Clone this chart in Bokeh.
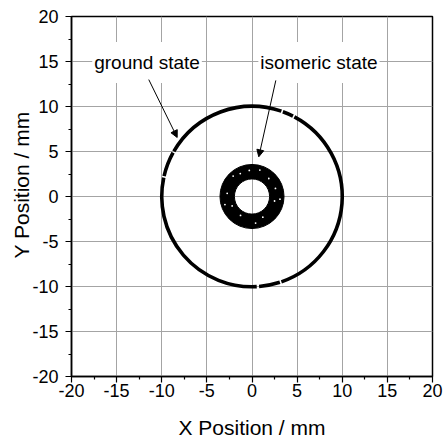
import numpy as np
from bokeh.plotting import figure
from bokeh.models import (Range1d, FixedTicker, Label, Arrow, NormalHead, Title,
                          PrintfTickFormatter)
from bokeh.embed import file_html
from bokeh.resources import INLINE

# ---------------- data ----------------
major_ticks = [-20, -15, -10, -5, 0, 5, 10, 15, 20]
minor_ticks = [-17.5, -12.5, -7.5, -2.5, 2.5, 7.5, 12.5, 17.5]

# ground state: thin ring of radius ~10 mm, with small gaps (arc pieces, degrees)
ground_radius = 10.0
ground_arc_start = [-71.0, 63.0, 71.0, 151.0, 168.0, -85.5]
ground_arc_end = [62.0, 70.0, 150.0, 167.0, 273.0, -72.0]

# isomeric state: thick ring around the centre
iso_center_x = [0.0]
iso_center_y = [0.0]
iso_inner_radius = [1.95]
iso_outer_radius = [3.55]

# small white gaps inside the isomeric ring
speck_x = [-2.09, -1.3, 0.87, 1.86, -2.75, -2.2, -1.27, 1.2, 2.5, 2.6, -0.3, 0.4, -3.0, 3.1]
speck_y = [2.27, 2.55, 2.94, 2.0, 0.35, -1.05, -2.1, -2.3, -0.5, 0.9, 2.9, -2.95, -0.9, -0.3]

annotations = ["ground state", "isomeric state"]

FONT = "Liberation Sans"

p = figure(width=443, height=441, output_backend="svg", toolbar_location=None,
           x_range=Range1d(-20, 20), y_range=Range1d(-20, 20),
           min_border_left=71, min_border_right=11, min_border_top=16,
           min_border_bottom=64)
p.background_fill_color = "white"
p.border_fill_color = "white"
p.outline_line_color = "black"
p.outline_line_width = 1.5

ticker = FixedTicker(ticks=major_ticks, minor_ticks=minor_ticks)

for ax in (p.xaxis[0], p.yaxis[0]):
    ax.ticker = ticker
    ax.formatter = PrintfTickFormatter(format="%d")
    ax.axis_line_color = "black"
    ax.axis_line_width = 1.5
    ax.major_tick_line_color = "black"
    ax.minor_tick_line_color = "black"
    ax.major_tick_line_width = 1.2
    ax.minor_tick_line_width = 1.2
    ax.major_tick_out = 6
    ax.major_tick_in = 0
    ax.minor_tick_out = 3
    ax.minor_tick_in = 0
    ax.major_label_text_font = FONT
    ax.major_label_text_font_size = "18px"
    ax.major_label_text_color = "black"
    ax.axis_label_text_font = FONT
    ax.axis_label_text_font_size = "21px"
    ax.axis_label_text_font_style = "normal"
    ax.axis_label_text_color = "black"

p.xaxis[0].axis_label = "X Position / mm"
p.xaxis[0].major_label_standoff = 1
p.xaxis[0].axis_label_standoff = 16
p.yaxis[0].major_label_standoff = 7
p.yaxis[0].axis_label = None

ytitle = Title(text="Y Position / mm", align="left", offset=118,
               text_font=FONT, text_font_size="21px", text_font_style="normal",
               text_color="black", standoff=-6)
p.add_layout(ytitle, "left")

for g in (p.xgrid[0], p.ygrid[0]):
    g.ticker = FixedTicker(ticks=major_ticks)
    g.grid_line_color = "#a4a4a4"
    g.grid_line_width = 1

# ground state ring
p.arc(x=0, y=0, radius=ground_radius,
      start_angle=np.deg2rad(ground_arc_start), end_angle=np.deg2rad(ground_arc_end),
      line_color="black", line_width=3.6)

# isomeric ring
p.annulus(x=iso_center_x, y=iso_center_y, inner_radius=iso_inner_radius,
          outer_radius=iso_outer_radius, fill_color="black", line_color="black")
p.scatter(x=speck_x, y=speck_y, size=1.8, fill_color="white", line_color=None)

# annotations
lab_pos = [(-11.63, 14.9), (7.42, 14.9)]
for txt, (lx, ly) in zip(annotations, lab_pos):
    p.add_layout(Label(x=lx, y=ly, text=txt, text_align="center",
                       text_baseline="middle", text_font=FONT,
                       text_font_size="19px", text_color="black",
                       background_fill_color="white", padding=(2, 10)))

p.add_layout(Arrow(x_start=-11.44, y_start=12.99, x_end=-8.29, y_end=6.56,
                   line_width=1, line_color="black",
                   end=NormalHead(size=7, fill_color="black", line_color="black",
                                  line_width=1)))
p.add_layout(Arrow(x_start=2.64, y_start=12.9, x_end=0.75, y_end=4.41,
                   line_width=1, line_color="black",
                   end=NormalHead(size=7, fill_color="black", line_color="black",
                                  line_width=1)))

open("out.html", "w").write(file_html(p, INLINE))
